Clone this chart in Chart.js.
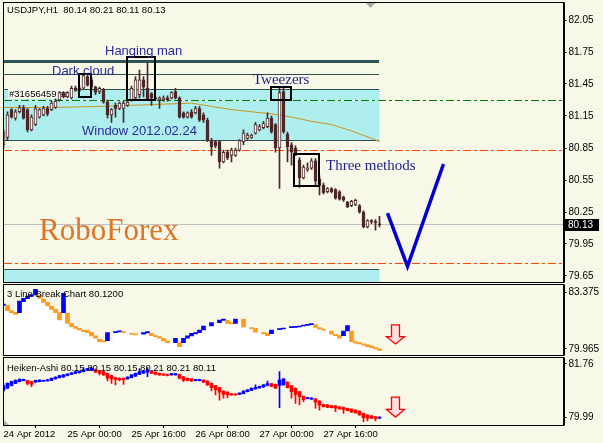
<!DOCTYPE html>
<html>
<head>
<meta charset="utf-8">
<script src="https://cdn.jsdelivr.net/npm/chart.js@4"></script>
<style>
  html, body { margin: 0; padding: 0; background: #F8F8E8; }
  #wrap { position: relative; width: 603px; height: 443px; overflow: hidden; }
  canvas { position: absolute; left: 0; }
</style>
</head>
<body>
<div id="wrap">
  <canvas id="main" width="603" height="283" style="top:0"></canvas>
  <canvas id="lb" width="603" height="73" style="top:283px"></canvas>
  <canvas id="ha" width="603" height="87" style="top:356px"></canvas>
</div>
<script>
// USDJPY H1 candles (bar 0 = 24 Apr 08:00)
const open = [80.88, 80.95, 81.21, 81.13, 81.19, 81.23, 81.21, 81.02, 81.07, 81.14,
  81.16, 81.22, 81.21, 81.23, 81.30, 81.37, 81.33, 81.32, 81.41, 81.39,
  81.41, 81.52, 81.49, 81.42, 81.38, 81.39, 81.28, 81.16, 81.25, 81.22,
  81.22, 81.25, 81.30, 81.32, 81.35, 81.49, 81.41, 81.36, 81.32, 81.30,
  81.30, 81.32, 81.32, 81.38, 81.32, 81.18, 81.14, 81.19, 81.18, 81.22,
  81.16, 81.11, 80.92, 80.91, 80.91, 80.72, 80.81, 80.78, 80.78, 80.83,
  80.91, 80.94, 80.95, 80.99, 81.02, 81.04, 81.05, 81.13, 81.07, 80.85,
  81.38, 80.98, 80.88, 80.85, 80.74, 80.57, 80.65, 80.66, 80.73, 80.56,
  80.50, 80.44, 80.47, 80.46, 80.44, 80.39, 80.34, 80.31, 80.32, 80.31,
  80.25, 80.11, 80.17, 80.16, 80.14];
const close = [81.00, 81.16, 81.14, 81.19, 81.23, 81.13, 81.02, 81.14, 81.22, 81.21,
  81.22, 81.17, 81.27, 81.29, 81.37, 81.33, 81.37, 81.41, 81.39, 81.41,
  81.53, 81.44, 81.42, 81.37, 81.41, 81.28, 81.16, 81.21, 81.22, 81.27,
  81.27, 81.28, 81.41, 81.49, 81.49, 81.42, 81.30, 81.32, 81.31, 81.32,
  81.32, 81.30, 81.37, 81.32, 81.14, 81.14, 81.18, 81.14, 81.22, 81.11,
  81.11, 80.92, 80.86, 80.87, 80.72, 80.81, 80.76, 80.83, 80.83, 80.92,
  80.99, 80.97, 80.97, 81.07, 81.05, 81.08, 81.13, 81.00, 80.85, 81.37,
  81.00, 80.86, 80.81, 80.78, 80.57, 80.67, 80.66, 80.73, 80.54, 80.50,
  80.43, 80.47, 80.44, 80.38, 80.37, 80.36, 80.30, 80.35, 80.36, 80.25,
  80.11, 80.17, 80.16, 80.15, 80.13];
const high = [81.02, 81.19, 81.22, 81.21, 81.25, 81.25, 81.22, 81.16, 81.25, 81.22,
  81.24, 81.24, 81.29, 81.31, 81.38, 81.38, 81.38, 81.43, 81.43, 81.43,
  81.55, 81.54, 81.51, 81.43, 81.42, 81.41, 81.30, 81.22, 81.27, 81.28,
  81.29, 81.30, 81.43, 81.52, 81.58, 81.52, 81.65, 81.37, 81.33, 81.33,
  81.34, 81.34, 81.38, 81.41, 81.33, 81.19, 81.19, 81.21, 81.24, 81.24,
  81.18, 81.13, 80.94, 80.92, 80.92, 80.83, 80.83, 80.85, 80.85, 80.93,
  81.02, 80.99, 80.98, 81.09, 81.07, 81.10, 81.18, 81.15, 81.08, 81.41,
  81.41, 81.00, 80.90, 80.87, 80.76, 80.69, 80.71, 80.75, 80.75, 80.59,
  80.52, 80.48, 80.48, 80.47, 80.45, 80.40, 80.35, 80.36, 80.37, 80.32,
  80.26, 80.18, 80.18, 80.18, 80.21];
const low = [80.85, 80.92, 81.13, 81.11, 81.18, 81.12, 81.00, 81.01, 81.06, 81.13,
  81.15, 81.15, 81.20, 81.22, 81.29, 81.32, 81.32, 81.31, 81.38, 81.38,
  81.40, 81.43, 81.39, 81.35, 81.36, 81.27, 81.13, 81.09, 81.14, 81.21,
  81.09, 81.24, 81.29, 81.31, 81.32, 81.33, 81.30, 81.25, 81.30, 81.22,
  81.29, 81.29, 81.31, 81.31, 81.13, 81.13, 81.13, 81.13, 81.17, 81.10,
  81.09, 80.91, 80.78, 80.85, 80.66, 80.71, 80.74, 80.72, 80.77, 80.82,
  80.88, 80.93, 80.94, 80.98, 81.01, 81.03, 81.04, 80.99, 80.81, 80.47,
  80.99, 80.72, 80.69, 80.78, 80.48, 80.56, 80.63, 80.65, 80.50, 80.41,
  80.42, 80.43, 80.43, 80.37, 80.36, 80.35, 80.29, 80.30, 80.31, 80.24,
  80.10, 80.10, 80.14, 80.08, 80.11];

// moving average, read at a few bars
const maIdx = [0, 13, 24, 32, 39, 47, 52, 57, 62, 67, 72, 77, 82, 87, 92, 94];
const maVal = [81.23, 81.23, 81.24, 81.25, 81.26, 81.27, 81.24, 81.21, 81.19, 81.17, 81.14, 81.10, 81.07, 81.01, 80.94, 80.91];

// forecast V
const vIdx = [96, 101, 110];
const vVal = [80.24, 79.74, 80.70];

// levels and zones
const zoneTop = [81.40, 79.715];
const zoneBottom = [80.925, 79.40];
const zoneEnd = 94;
const tealLevels = [81.66, 81.54];
const orderLevel = 81.30;
const stopLevels = [80.825, 79.77];
const bidPrice = 80.13;

// pattern boxes: [fromBar, toBar, top, bottom]
const boxDarkCloud = [18.9, 21.9, 81.54, 81.33];
const boxHangingMan = [30.9, 37.9, 81.70, 81.30];
const boxTweezers = [66.9, 71.9, 81.42, 81.30];
const boxThreeMethods = [72.6, 78.9, 80.79, 80.49];

const mainTicks = [82.05, 81.75, 81.45, 81.15, 80.85, 80.55, 80.25, 79.95, 79.65];

// 3 line break bricks (null = no brick)
const lbOpen = [82.59, 82.61, 82.27, 82.17, 82.15, 82.81, 82.99, 83.13, 83.21, 83.21,
  82.97, 82.77, 82.55, 82.35, 82.15, 82.15, 82.11, 81.51, 81.31, 81.21,
  81.11, 81.07, 80.97, 80.75, 80.55, 80.45, 80.47, null, 80.95, 80.99,
  81.01, null, 80.91, 80.87, null, 80.85, 80.93, 80.91, 80.77, 80.71,
  80.61, 80.45, null, 80.35, 80.35, 80.35, 80.61, 80.75, 80.87, 80.95,
  81.11, null, 81.35, null, 81.55, 81.69, 81.69, 81.55, 81.51, null,
  81.77, null, 81.25, 81.19, null, 80.95, 80.91, 80.89, null, 81.13,
  81.17, null, 81.25, 81.27, 81.29, 81.35, 81.39, 81.43, 81.43, 81.25,
  81.17, null, 81.05, 80.85, 80.77, 80.77, 81.05, 81.05, 80.41, 80.35,
  80.27, 80.21, 80.15, 80.05, 79.97];
const lbClose = [82.67, 82.27, 82.15, 82.05, 82.85, 83.01, 83.15, 83.23, 83.55, 83.01,
  82.77, 82.55, 82.35, 82.15, 81.71, 83.31, 81.51, 81.31, 81.21, 81.11,
  81.01, 80.95, 80.75, 80.61, 80.41, 80.39, 80.95, null, 81.01, 81.05,
  80.95, null, 80.85, 80.81, null, 80.95, 81.01, 80.77, 80.71, 80.61,
  80.45, 80.35, null, 80.61, 80.11, 80.61, 80.75, 80.91, 80.95, 81.11,
  81.35, null, 81.55, null, 81.71, 81.77, 81.51, 81.47, 81.77, null,
  81.29, null, 81.19, 80.97, null, 80.87, 80.77, 81.11, null, 81.19,
  81.23, null, 81.29, 81.31, 81.35, 81.39, 81.43, 81.49, 81.27, 81.15,
  81.09, null, 80.85, 80.77, 80.61, 81.05, 81.37, 80.41, 80.31, 80.27,
  80.19, 80.11, 80.05, 79.97, 79.87];
const lbTicks = [83.375, 79.965];

// Heiken-Ashi
const haOpen = [80.90, 80.96, 81.05, 81.12, 81.18, 81.21, 81.21, 81.18, 81.16, 81.18,
  81.19, 81.20, 81.22, 81.27, 81.31, 81.33, 81.38, 81.42, 81.45, 81.47,
  81.51, 81.55, 81.55, 81.57, 81.54, 81.51, 81.45, 81.38, 81.31, 81.29,
  81.29, 81.27, 81.31, 81.36, 81.42, 81.46, 81.49, 81.53, 81.49, 81.45,
  81.43, 81.42, 81.40, 81.40, 81.42, 81.34, 81.29, 81.27, 81.21, 81.21,
  81.23, 81.20, 81.12, 81.05, 80.98, 80.87, 80.83, 80.78, 80.77, 80.76,
  80.78, 80.85, 80.89, 80.94, 80.97, 81.00, 81.05, 81.11, 81.09, 81.05,
  81.07, 81.16, 81.05, 80.96, 80.85, 80.69, 80.62, 80.60, 80.61, 80.54,
  80.43, 80.41, 80.39, 80.38, 80.35, 80.33, 80.30, 80.27, 80.24, 80.21,
  80.13, 80.08, 80.05, 80.02, 79.97];
const haClose = [81.05, 81.12, 81.18, 81.22, 81.25, 81.25, 81.12, 81.09, 81.22, 81.23,
  81.22, 81.24, 81.29, 81.33, 81.38, 81.40, 81.43, 81.47, 81.51, 81.52,
  81.57, 81.61, 81.62, 81.49, 81.46, 81.40, 81.29, 81.27, 81.25, 81.24,
  81.24, 81.33, 81.40, 81.45, 81.51, 81.53, 81.56, 81.45, 81.42, 81.40,
  81.39, 81.38, 81.44, 81.44, 81.29, 81.23, 81.22, 81.20, 81.24, 81.24,
  81.16, 81.07, 80.98, 80.91, 80.83, 80.76, 80.74, 80.74, 80.74, 80.80,
  80.87, 80.91, 80.96, 80.99, 81.02, 81.07, 81.11, 81.02, 80.96, 81.23,
  81.27, 80.98, 80.85, 80.76, 80.68, 80.58, 80.65, 80.64, 80.50, 80.41,
  80.35, 80.33, 80.32, 80.30, 80.28, 80.26, 80.22, 80.17, 80.15, 80.08,
  79.99, 79.97, 79.97, 79.96, 80.01];
const haHigh = [81.12, 81.14, 81.20, 81.24, 81.27, 81.26, 81.22, 81.19, 81.23, 81.24,
  81.23, 81.25, 81.30, 81.34, 81.39, 81.41, 81.44, 81.48, 81.52, 81.53,
  81.64, 81.62, 81.66, 81.60, 81.55, 81.52, 81.46, 81.39, 81.32, 81.30,
  81.30, 81.34, 81.41, 81.46, 81.60, 81.55, 81.64, 81.54, 81.50, 81.46,
  81.44, 81.43, 81.45, 81.45, 81.43, 81.35, 81.30, 81.28, 81.25, 81.25,
  81.24, 81.21, 81.13, 81.06, 80.99, 80.88, 80.84, 80.79, 80.78, 80.81,
  80.88, 80.92, 80.97, 81.07, 81.03, 81.08, 81.20, 81.12, 81.10, 81.51,
  81.28, 81.17, 81.06, 80.97, 80.86, 80.70, 80.66, 80.65, 80.62, 80.55,
  80.44, 80.42, 80.40, 80.39, 80.36, 80.34, 80.31, 80.28, 80.25, 80.22,
  80.14, 80.09, 80.06, 80.03, 80.02];
const haLow = [80.85, 80.95, 81.04, 81.11, 81.17, 81.20, 81.07, 81.01, 81.15, 81.17,
  81.18, 81.19, 81.21, 81.26, 81.30, 81.32, 81.37, 81.41, 81.44, 81.46,
  81.50, 81.54, 81.54, 81.48, 81.40, 81.38, 81.20, 81.12, 81.07, 81.20,
  81.09, 81.26, 81.30, 81.35, 81.41, 81.45, 81.34, 81.44, 81.40, 81.38,
  81.38, 81.37, 81.39, 81.39, 81.27, 81.18, 81.20, 81.18, 81.20, 81.20,
  81.14, 81.05, 80.87, 80.74, 80.57, 80.63, 80.65, 80.72, 80.73, 80.75,
  80.77, 80.84, 80.88, 80.93, 80.96, 80.99, 81.04, 81.01, 80.95, 80.32,
  81.06, 80.97, 80.63, 80.46, 80.41, 80.52, 80.61, 80.59, 80.30, 80.24,
  80.34, 80.32, 80.31, 80.19, 80.27, 80.13, 80.21, 80.16, 80.14, 80.07,
  79.86, 79.88, 79.96, 79.88, 79.96];
const haTicks = [81.76, 79.99];

// signal arrows in the sub windows
const arrowBar = 98;
const lbArrow = [81.41, 80.27];
const haArrow = [80.67, 80.01];

// time axis
const timeTickIdx = [0, 16, 32, 48, 64, 80];
const timeLabels = ['24 Apr 2012', '25 Apr 00:00', '25 Apr 16:00', '26 Apr 08:00', '27 Apr 00:00', '27 Apr 16:00'];

document.addEventListener("DOMContentLoaded", function () {

const SANS = '"Liberation Sans", Arial, sans-serif';
const SERIF = '"Liberation Serif", "Times New Roman", serif';
const DARK = '#4a2828';
const slots = Array.from({ length: 141 }, (_, i) => String(i));

function crisp(v) { return Math.floor(v) + 0.5; }

// horizontal line drawn with filled rects so dashes stay sharp
function hline(ctx, x0, x1, y, color, w, dash) {
  ctx.save();
  ctx.fillStyle = color;
  const yy = Math.round(y - w / 2);
  x0 = Math.round(x0); x1 = Math.round(x1);
  if (!dash) {
    ctx.fillRect(x0, yy, x1 - x0, w);
  } else {
    let x = x0, k = 0;
    while (x < x1) {
      const len = dash[k % dash.length];
      if (k % 2 === 0) ctx.fillRect(x, yy, Math.min(len, x1 - x), w);
      x += len; k++;
    }
  }
  ctx.restore();
}

function frame(chart) {
  const a = chart.chartArea, ctx = chart.ctx;
  ctx.save();
  ctx.strokeStyle = '#000';
  ctx.lineWidth = 1;
  const l = crisp(a.left), r = crisp(a.right), t = crisp(a.top), b = crisp(a.bottom);
  ctx.strokeRect(l, t, r - l, b - t);
  ctx.beginPath(); ctx.moveTo(r + 1, t); ctx.lineTo(r + 1, b); ctx.stroke();
  ctx.restore();
}

function text(ctx, s, x, y, font, color) {
  ctx.save();
  ctx.font = font; ctx.fillStyle = color;
  ctx.textAlign = 'left'; ctx.textBaseline = 'middle';
  ctx.fillText(s, x, y);
  ctx.restore();
}

function downArrow(ctx, cx, top, bot) {
  const neck = top + (bot - top) * 0.62;
  ctx.save();
  ctx.beginPath();
  ctx.moveTo(cx - 4, top); ctx.lineTo(cx + 4, top); ctx.lineTo(cx + 4, neck);
  ctx.lineTo(cx + 9, neck); ctx.lineTo(cx, bot); ctx.lineTo(cx - 9, neck);
  ctx.lineTo(cx - 4, neck); ctx.closePath();
  ctx.fillStyle = '#FFE0E0'; ctx.fill();
  ctx.strokeStyle = '#FF0000'; ctx.lineWidth = 1.3; ctx.stroke();
  ctx.restore();
}

function yAxis(min, max, ticks, digits) {
  return {
    position: 'right', min: min, max: max,
    afterFit: (s) => { s.width = 39.5; s.paddingTop = 0; s.paddingBottom = 0; },
    afterBuildTicks: (s) => { s.ticks = ticks.map(v => ({ value: v })); },
    grid: { drawOnChartArea: false, tickLength: 3, color: '#000' },
    border: { display: false },
    ticks: { padding: 2, color: '#000', font: { family: SANS, size: 10 }, callback: v => v.toFixed(digits) }
  };
}

const baseOptions = {
  responsive: false, animation: false, devicePixelRatio: 1,
  plugins: { legend: { display: false }, tooltip: { enabled: false } }
};

//MAIN CHART
const maData = new Array(slots.length).fill(null);
maIdx.forEach((k, j) => { maData[k] = maVal[j]; });
const vData = new Array(slots.length).fill(null);
vIdx.forEach((k, j) => { vData[k] = vVal[j]; });

const mainDecor = {
  id: 'mainDecor',
  beforeDatasetsDraw(chart) {
    const ctx = chart.ctx, x = chart.scales.x, y = chart.scales.y, a = chart.chartArea;
    ctx.save();
    ctx.beginPath(); ctx.rect(a.left, a.top, a.right - a.left, a.bottom - a.top); ctx.clip();
    const xe = x.getPixelForValue(zoneEnd);
    zoneTop.forEach((t, i) => {
      const y0 = y.getPixelForValue(t), y1 = y.getPixelForValue(zoneBottom[i]);
      ctx.fillStyle = '#AFEEEE';
      ctx.fillRect(a.left, Math.round(y0), xe - a.left, Math.round(y1) - Math.round(y0));
      hline(ctx, a.left, xe, y0, '#2F4F4F', 1);
      hline(ctx, a.left, xe, y1, '#2F4F4F', 1);
    });
    hline(ctx, a.left, xe, y.getPixelForValue(tealLevels[0]), '#2F5555', 3);
    hline(ctx, a.left, xe, y.getPixelForValue(tealLevels[1]), '#2F4F4F', 1);
    hline(ctx, a.left, a.right, y.getPixelForValue(bidPrice), '#C0C0C0', 1);
    hline(ctx, a.left, xe, y.getPixelForValue(orderLevel), '#FFFFFF', 1);
    hline(ctx, a.left, a.right, y.getPixelForValue(orderLevel), '#008000', 1, [8, 3, 3, 3]);
    stopLevels.forEach(p => hline(ctx, a.left, a.right, y.getPixelForValue(p), '#FF4500', 1, [8, 3, 3, 3]));
    // order label
    ctx.fillStyle = '#FAFAF0';
    ctx.fillRect(8, 89, 66, 10);
    text(ctx, '#31656459 sell', 9, 94.5, '9.5px ' + SANS, '#000');
    ctx.restore();
  },
  afterDatasetsDraw(chart) {
    const ctx = chart.ctx, x = chart.scales.x, y = chart.scales.y;
    ctx.save();
    ctx.strokeStyle = '#000'; ctx.lineWidth = 2;
    [boxDarkCloud, boxHangingMan, boxTweezers, boxThreeMethods].forEach(b => {
      const x0 = Math.round(x.getPixelForValue(b[0])), x1 = Math.round(x.getPixelForValue(b[1]));
      const y0 = Math.round(y.getPixelForValue(b[2])), y1 = Math.round(y.getPixelForValue(b[3]));
      ctx.strokeRect(x0, y0, x1 - x0, y1 - y0);
    });
    ctx.restore();
    const navy = '#2a2a9c';
    text(ctx, 'Hanging man', 105, 51, '13px ' + SANS, navy);
    text(ctx, 'Dark cloud', 52, 71, '13px ' + SANS, navy);
    text(ctx, 'Window 2012.02.24', 82, 131, '13px ' + SANS, navy);
    text(ctx, 'Tweezers', 253, 80, '15px ' + SERIF, '#1e1e8a');
    text(ctx, 'Three methods', 326, 166, '15px ' + SERIF, '#1e1e8a');
    text(ctx, 'RoboForex', 39, 232, '31px ' + SERIF, '#DE7426');
    const n = close.length - 1;
    text(ctx, 'USDJPY,H1  ' + [open[n], high[n], low[n], close[n]].map(v => v.toFixed(2)).join(' '), 7, 10.5, '9.5px ' + SANS, '#000');
    // shift marker
    ctx.save();
    ctx.fillStyle = '#A8A8A8';
    ctx.beginPath(); ctx.moveTo(366, 3); ctx.lineTo(375, 3); ctx.lineTo(370.5, 8); ctx.closePath(); ctx.fill();
    ctx.restore();
  },
  afterDraw(chart) {
    frame(chart);
    const ctx = chart.ctx, yb = Math.round(chart.scales.y.getPixelForValue(bidPrice));
    ctx.save();
    ctx.fillStyle = '#000';
    ctx.fillRect(564, yb - 6, 35, 12);
    ctx.restore();
    text(ctx, bidPrice.toFixed(2), 568, yb, '10px ' + SANS, '#fff');
  }
};

new Chart(document.getElementById('main'), {
  type: 'bar',
  data: {
    labels: slots,
    datasets: [
      { type: 'line', data: maData, borderColor: '#C8961E', borderWidth: 1, pointRadius: 0, spanGaps: true, order: 3 },
      { data: low.map((v, i) => [v, high[i]]), backgroundColor: DARK, barThickness: 1, grouped: false, order: 2 },
      {
        data: open.map((v, i) => [v, close[i]]),
        backgroundColor: c => close[c.dataIndex] > open[c.dataIndex] ? '#FFFFFF' : DARK,
        borderColor: DARK, borderWidth: 1, borderSkipped: false,
        barThickness: 3, minBarLength: 1, grouped: false, order: 1
      },
      { type: 'line', data: vData, borderColor: '#0000CC', borderWidth: 3.5, pointRadius: 0, spanGaps: true, order: 0 }
    ]
  },
  options: Object.assign({}, baseOptions, {
    layout: { padding: { left: 3.5, top: 2, bottom: 1, right: 0 } },
    scales: {
      x: { display: false, offset: false, grid: { display: false } },
      y: yAxis(79.59375, 82.21875, mainTicks, 2)
    }
  }),
  plugins: [mainDecor]
});

//3 LINE BREAK
let lastTop = null;
const whiteData = lbOpen.map((o, i) => {
  if (o !== null) lastTop = Math.min(o, lbClose[i]);
  return lastTop === null ? null : [79.0, lastTop];
});

new Chart(document.getElementById('lb'), {
  type: 'bar',
  data: {
    labels: slots,
    datasets: [
      { data: whiteData, backgroundColor: '#FFFFFF', barThickness: 4, grouped: false, order: 2 },
      {
        data: lbOpen.map((v, i) => v === null ? null : [v, lbClose[i]]),
        backgroundColor: c => lbClose[c.dataIndex] > lbOpen[c.dataIndex] ? '#0000FF' : '#FF9A1A',
        barThickness: 4, minBarLength: 1, grouped: false, order: 1
      }
    ]
  },
  options: Object.assign({}, baseOptions, {
    layout: { padding: { left: 3.5, top: 1, bottom: 1, right: 0 } },
    scales: {
      x: { display: false, offset: false, grid: { display: false } },
      y: yAxis(79.604, 83.874, lbTicks, 3)
    }
  }),
  plugins: [{
    id: 'lbDecor',
    afterDatasetsDraw(chart) {
      const x = chart.scales.x, y = chart.scales.y;
      downArrow(chart.ctx, x.getPixelForValue(arrowBar), y.getPixelForValue(lbArrow[0]), y.getPixelForValue(lbArrow[1]));
      text(chart.ctx, '3 Line Break Chart 80.1200', 7, 11, '9.5px ' + SANS, '#000');
    },
    afterDraw: frame
  }]
});

//HEIKEN ASHI
const haColor = c => haClose[c.dataIndex] >= haOpen[c.dataIndex] ? '#0000FF' : '#FF0000';

new Chart(document.getElementById('ha'), {
  type: 'bar',
  data: {
    labels: slots,
    datasets: [
      { data: haLow.map((v, i) => [v, haHigh[i]]), backgroundColor: haColor, barThickness: 1, grouped: false, order: 2 },
      { data: haOpen.map((v, i) => [v, haClose[i]]), backgroundColor: haColor, barThickness: 3, minBarLength: 1, grouped: false, order: 1 }
    ]
  },
  options: Object.assign({}, baseOptions, {
    layout: { padding: { left: 3.5, top: 1, bottom: 1, right: 0 } },
    scales: {
      x: {
        offset: false,
        afterBuildTicks: (s) => { s.ticks = timeTickIdx.map(v => ({ value: v })); },
        afterFit: (s) => { s.height = 17; s.paddingLeft = 0; s.paddingRight = 0; },
        grid: { drawOnChartArea: false, tickLength: 3, color: '#000' },
        border: { display: false },
        ticks: {
          autoSkip: false, maxRotation: 0, align: 'start', padding: 1, color: '#000',
          font: { family: SANS, size: 9.5 },
          callback: v => timeLabels[timeTickIdx.indexOf(v)]
        }
      },
      y: yAxis(79.749, 81.99, haTicks, 2)
    }
  }),
  plugins: [{
    id: 'haDecor',
    afterDatasetsDraw(chart) {
      const ctx = chart.ctx, x = chart.scales.x, y = chart.scales.y, a = chart.chartArea;
      downArrow(ctx, x.getPixelForValue(arrowBar), y.getPixelForValue(haArrow[0]), y.getPixelForValue(haArrow[1]));
      text(ctx, 'Heiken-Ashi 80.15 80.15 80.15 80.21 80.21 80.11', 7, 12.5, '9.5px ' + SANS, '#000');
      ctx.save();
      ctx.fillStyle = '#B0B0B0';
      ctx.beginPath(); ctx.moveTo(4, a.bottom - 5); ctx.lineTo(4, a.bottom); ctx.lineTo(9, a.bottom); ctx.closePath(); ctx.fill();
      ctx.restore();
    },
    afterDraw: frame
  }]
});

});
</script>
</body>
</html>
